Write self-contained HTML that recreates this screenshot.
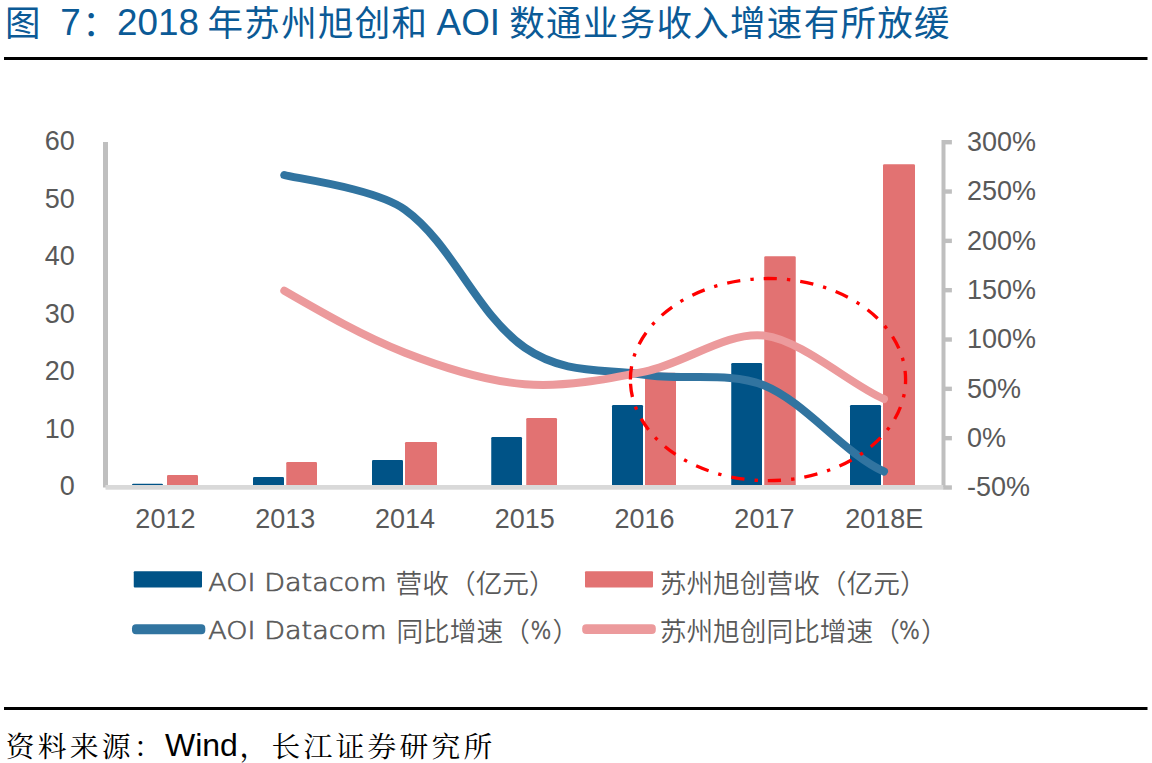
<!DOCTYPE html>
<html lang="zh-CN"><head><meta charset="utf-8"><title>图 7：2018 年苏州旭创和 AOI 数通业务收入增速有所放缓</title>
<style>
html,body{margin:0;padding:0;background:#fff;}
body{width:1152px;height:763px;overflow:hidden;}
svg{display:block;}
text{font-family:"Liberation Sans","Noto Sans CJK SC",sans-serif;}
.title .cj{font-size:35.5px;letter-spacing:1.3px;}
.lg text{font-family:"Liberation Sans","Noto Sans CJK SC",sans-serif;font-weight:350;}
.lg text.cg{font-family:"DejaVu Sans","Liberation Sans",sans-serif;font-weight:200;stroke:#595959;stroke-width:0.7px;font-size:24.5px;}
text.ft{font-family:"Liberation Sans","Noto Serif CJK SC",serif;}
.ft .cj{font-size:28.8px;letter-spacing:3.2px;}
</style></head><body>
<svg width="1152" height="763" viewBox="0 0 1152 763">
<rect x="4" y="57" width="1143.5" height="3" fill="#000"/>
<rect x="4" y="707" width="1143.5" height="3" fill="#000"/>
<text class="title" font-size="36.8" fill="#0b5a96"><tspan class="cj" x="5.05" y="35.6">图 </tspan><tspan x="60.2" y="34.5">7</tspan><tspan class="cj" x="82.15" y="35.6">：</tspan><tspan x="117" y="34.5">2018 </tspan><tspan class="cj" x="207.55" y="35.6">年苏州旭创和 </tspan><tspan x="436.6" y="34.5">AOI </tspan><tspan class="cj" x="509.25" y="35.6">数通业务收入增速有所放缓</tspan></text>
<path d="M132.00 487.00 V485.10 Q132.00 483.80 133.30 483.80 H161.70 Q163.00 483.80 163.00 485.10 V487.00 Z" fill="#005387"/>
<path d="M167.00 487.00 V476.30 Q167.00 475.00 168.30 475.00 H196.70 Q198.00 475.00 198.00 476.30 V487.00 Z" fill="#e27272"/>
<path d="M253.00 487.00 V478.30 Q253.00 477.00 254.30 477.00 H282.70 Q284.00 477.00 284.00 478.30 V487.00 Z" fill="#005387"/>
<path d="M286.25 487.00 V463.30 Q286.25 462.00 287.55 462.00 H315.70 Q317.00 462.00 317.00 463.30 V487.00 Z" fill="#e27272"/>
<path d="M372.00 487.00 V461.30 Q372.00 460.00 373.30 460.00 H401.70 Q403.00 460.00 403.00 461.30 V487.00 Z" fill="#005387"/>
<path d="M405.00 487.00 V443.30 Q405.00 442.00 406.30 442.00 H435.70 Q437.00 442.00 437.00 443.30 V487.00 Z" fill="#e27272"/>
<path d="M491.25 487.00 V438.30 Q491.25 437.00 492.55 437.00 H520.70 Q522.00 437.00 522.00 438.30 V487.00 Z" fill="#005387"/>
<path d="M526.25 487.00 V419.30 Q526.25 418.00 527.55 418.00 H555.70 Q557.00 418.00 557.00 419.30 V487.00 Z" fill="#e27272"/>
<path d="M612.00 487.00 V406.30 Q612.00 405.00 613.30 405.00 H641.70 Q643.00 405.00 643.00 406.30 V487.00 Z" fill="#005387"/>
<path d="M645.00 487.00 V374.10 Q645.00 372.80 646.30 372.80 H674.70 Q676.00 372.80 676.00 374.10 V487.00 Z" fill="#e27272"/>
<path d="M731.25 487.00 V364.30 Q731.25 363.00 732.55 363.00 H760.70 Q762.00 363.00 762.00 364.30 V487.00 Z" fill="#005387"/>
<path d="M764.25 487.00 V257.55 Q764.25 256.25 765.55 256.25 H794.45 Q795.75 256.25 795.75 257.55 V487.00 Z" fill="#e27272"/>
<path d="M850.00 487.00 V406.30 Q850.00 405.00 851.30 405.00 H879.70 Q881.00 405.00 881.00 406.30 V487.00 Z" fill="#005387"/>
<path d="M883.00 487.00 V165.55 Q883.00 164.25 884.30 164.25 H913.70 Q915.00 164.25 915.00 165.55 V487.00 Z" fill="#e27272"/>
<rect x="103" y="142" width="5" height="345.5" fill="#bfbfbf"/>
<rect x="941.5" y="140" width="4" height="347" fill="#bfbfbf"/>
<rect x="105.5" y="485" width="838" height="4.7" fill="#d9d9d9"/>
<rect x="943.2" y="140.00" width="8.7" height="4.4" fill="#bfbfbf"/>
<rect x="943.2" y="189.33" width="8.7" height="4.4" fill="#bfbfbf"/>
<rect x="943.2" y="238.66" width="8.7" height="4.4" fill="#bfbfbf"/>
<rect x="943.2" y="287.99" width="8.7" height="4.4" fill="#bfbfbf"/>
<rect x="943.2" y="337.32" width="8.7" height="4.4" fill="#bfbfbf"/>
<rect x="943.2" y="386.65" width="8.7" height="4.4" fill="#bfbfbf"/>
<rect x="943.2" y="435.98" width="8.7" height="4.4" fill="#bfbfbf"/>
<rect x="943.2" y="485.31" width="8.7" height="4.4" fill="#bfbfbf"/>
<path d="M284.30 175.00 C293.20 178.00 374.80 188.00 405.00 209.70 C452.46 243.89 477.05 314.70 524.80 347.60 C564.73 375.12 604.24 368.42 644.60 374.80 C684.11 381.05 728.53 371.01 764.40 385.50 C804.80 401.80 844.80 454.10 884.00 471.50" fill="none" stroke="#3174a0" stroke-width="8" stroke-linecap="round" stroke-linejoin="round"/>
<path d="M284.30 290.70 C323.60 313.40 363.00 336.00 405.00 352.75 C443.23 367.66 484.31 381.01 524.80 384.20 C564.18 387.30 605.42 379.55 644.60 371.60 C685.29 363.35 726.07 331.21 764.40 335.60 C801.40 339.80 853.30 386.70 884.00 399.00" fill="none" stroke="#ec9a9c" stroke-width="8" stroke-linecap="round" stroke-linejoin="round"/>
<path d="M630.40 379.60 A137.60 101.10 0 0 1 905.60 379.60 A137.60 101.10 0 0 1 630.40 379.60" fill="none" stroke="#ff0000" stroke-width="3.33" stroke-dasharray="13.33 10 3.33 10" pathLength="750.7"/>
<g class="ax" font-size="27" fill="#595959">
<text x="74.7" y="150.2" text-anchor="end">60</text>
<text x="74.7" y="207.7" text-anchor="end">50</text>
<text x="74.7" y="265.2" text-anchor="end">40</text>
<text x="74.7" y="322.7" text-anchor="end">30</text>
<text x="74.7" y="380.2" text-anchor="end">20</text>
<text x="74.7" y="437.7" text-anchor="end">10</text>
<text x="74.7" y="495.2" text-anchor="end">0</text>
<text x="967" y="151.1">300%</text>
<text x="967" y="200.4">250%</text>
<text x="967" y="249.7">200%</text>
<text x="967" y="299.0">150%</text>
<text x="967" y="348.3">100%</text>
<text x="967" y="397.6">50%</text>
<text x="967" y="446.9">0%</text>
<text x="967" y="496.2">-50%</text>
<text x="165.4" y="527.9" text-anchor="middle">2012</text>
<text x="285.2" y="527.9" text-anchor="middle">2013</text>
<text x="405.0" y="527.9" text-anchor="middle">2014</text>
<text x="524.8" y="527.9" text-anchor="middle">2015</text>
<text x="644.6" y="527.9" text-anchor="middle">2016</text>
<text x="764.4" y="527.9" text-anchor="middle">2017</text>
<text x="884.2" y="527.9" text-anchor="middle">2018E</text>
</g>
<rect x="133.75" y="571.25" width="68.25" height="16.25" rx="1" fill="#005387"/>
<rect x="585" y="571.25" width="68" height="16.25" rx="1" fill="#e27272"/>
<rect x="132" y="624.3" width="73.3" height="9.9" rx="4" fill="#3174a0"/>
<rect x="582.2" y="624.3" width="73.6" height="9.8" rx="4" fill="#ec9a9c"/>
<g class="lg" font-size="26.7" fill="#595959">
<text class="cg" transform="translate(208.3,590.6) scale(1.104,1)">AOI Datacom </text>
<text x="395.6" y="592.5">营收（亿元）</text>
<text x="659.75" y="592.5">苏州旭创营收（亿元）</text>
<text class="cg" transform="translate(208.3,638.7) scale(1.104,1)">AOI Datacom </text>
<text x="396.4" y="640.6">同比增速（</text>
<text class="cg" transform="translate(530.5,638.7) scale(0.9,1)">%</text>
<text x="552.5" y="640.6">）</text>
<text x="659.75" y="640.6">苏州旭创同比增速（</text>
<text class="cg" transform="translate(899,638.7) scale(0.9,1)">%</text>
<text x="921" y="640.6">）</text>
</g>
<text class="ft" fill="#000" font-size="32"><tspan class="cj" x="5.85" y="756.6">资料来源：</tspan><tspan x="165" y="755.5">Wind</tspan><tspan class="cj" x="239.6" y="756.6">，长江证券研究所</tspan></text>
</svg>
</body></html>
